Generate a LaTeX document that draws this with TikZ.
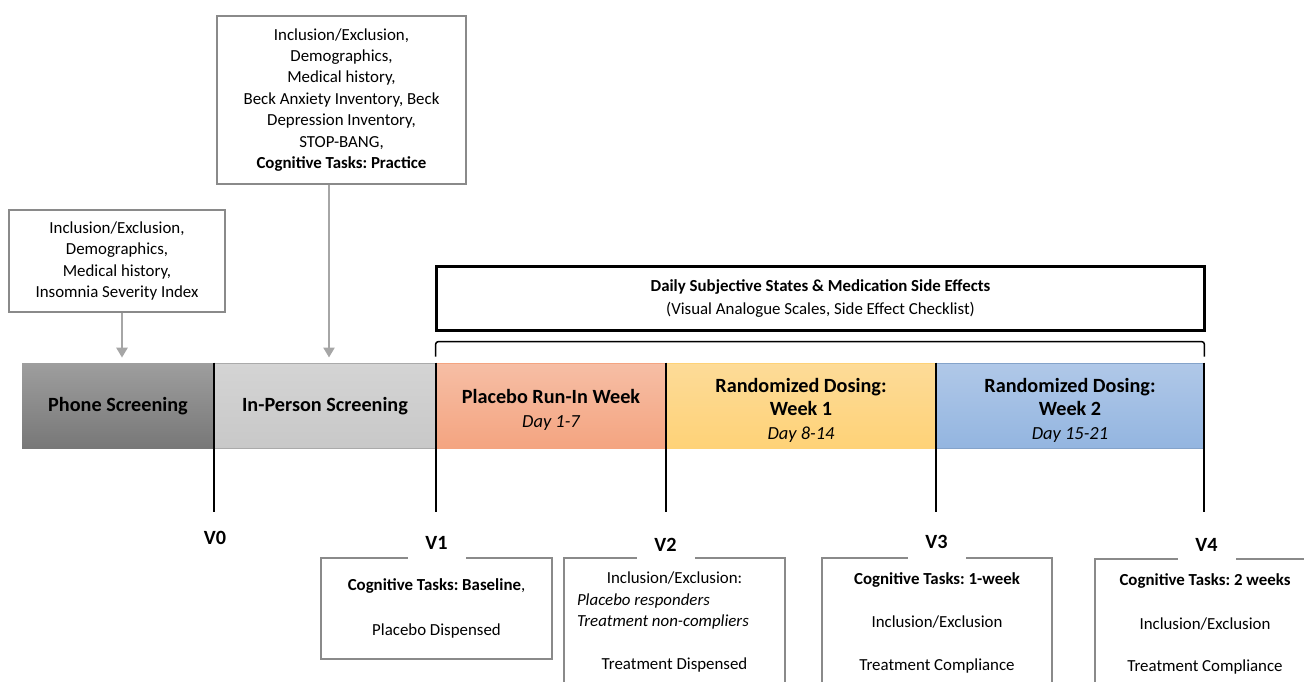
\documentclass[tikz,border=0pt]{standalone}
\usepackage{fontspec}
\setmainfont{Carlito}
\usetikzlibrary{arrows.meta}
\frenchspacing

\definecolor{boxgray}{HTML}{8A8A8A}
\definecolor{feedgray}{HTML}{A6A6A6}
\definecolor{phonetop}{HTML}{9E9E9E}
\definecolor{phonebot}{HTML}{777777}
\definecolor{persontop}{HTML}{D4D4D4}
\definecolor{personbot}{HTML}{C8C8C8}
\definecolor{placebotop}{HTML}{F6BEA5}
\definecolor{placebobot}{HTML}{F4A480}
\definecolor{weekonetop}{HTML}{FDDB98}
\definecolor{weekonebot}{HTML}{FED277}
\definecolor{weektwotop}{HTML}{B0C8E8}
\definecolor{weektwobot}{HTML}{93B5E0}

\newcommand{\dayspan}[1]{{\fontsize{10.5}{12}\selectfont\mdseries\itshape #1}}

\tikzset{
    infobox/.style={draw=boxgray, line width=0.03cm, fill=white, align=center, inner sep=0pt, font=\fontsize{9.6}{12.2}\selectfont},
    seg/.style={minimum height=1.72cm, inner sep=0pt, align=center, font=\fontsize{11.5}{13.5}\selectfont\bfseries},
    visit/.style={fill=white, minimum width=1.16cm, minimum height=0.74cm, inner sep=0pt, font=\fontsize{11.5}{13.5}\selectfont\bfseries},
    feed/.style={draw=feedgray, line width=0.05cm, shorten >=0.1cm, -{Triangle[length=0.2cm,width=0.22cm]}},
    divider/.style={line width=0.04cm}
}

\begin{document}
\begin{tikzpicture}[x=0.02cm, y=-0.02cm]
            \useasboundingbox (0,0) rectangle (1304,682);
            \clip (0,0) rectangle (1304,682);

            %screening info
            \node[infobox, minimum width=4.98cm, minimum height=3.36cm] (personinfo) at (341.5,100) {Inclusion/Exclusion,\\Demographics,\\Medical history,\\Beck Anxiety Inventory, Beck\\Depression Inventory,\\STOP-BANG,\\\textbf{Cognitive Tasks: Practice}};

            \node[infobox, minimum width=4.32cm, minimum height=2.04cm] (phoneinfo) at (117,261) {Inclusion/Exclusion,\\Demographics,\\Medical history,\\Insomnia Severity Index};

            %daily measures
            \node[draw, line width=0.06cm, minimum width=15.38cm, minimum height=1.3cm, align=center, font=\fontsize{9.6}{12}\selectfont] (daily) at (820.5,298.5) {\textbf{Daily Subjective States \& Medication Side Effects}\\[1pt](Visual Analogue Scales, Side Effect Checklist)};

            %timeline
            \node[seg, minimum width=3.84cm, top color=phonetop, bottom color=phonebot] (phone) at (118,406) {\raisebox{-2pt}{Phone Screening}};

            \node[seg, minimum width=4.44cm, top color=persontop, bottom color=personbot, draw=persontop!80!black, line width=0.02cm] (person) at (325,406) {\raisebox{-2pt}{In-Person Screening}};

            \node[seg, minimum width=4.6cm, top color=placebotop, bottom color=placebobot, draw=placebobot, line width=0.02cm] (placebo) at (551,406) {\rule{0pt}{12.5pt}Placebo Run-In Week\\\dayspan{Day 1-7}};

            \node[seg, minimum width=5.4cm, top color=weekonetop, bottom color=weekonebot, draw=weekonebot, line width=0.02cm] (weekone) at (801,406) {\rule{0pt}{13pt}Randomized Dosing:\\Week 1\\\dayspan{Day 8-14}};

            \node[seg, minimum width=5.36cm, top color=weektwotop, bottom color=weektwobot, draw=weektwobot!90!black, line width=0.02cm] (weektwo) at (1070,406) {\rule{0pt}{13pt}Randomized Dosing:\\Week 2\\\dayspan{Day 15-21}};

            \draw[feed] ([xshift=0.1cm]phoneinfo.south) -- ([xshift=0.1cm]phoneinfo.south |- phone.north);

            \draw[feed] ([xshift=-0.25cm]personinfo.south) -- ([xshift=-0.25cm]personinfo.south |- person.north);

            \draw[line width=0.03cm, rounded corners=0.06cm] ([yshift=0.12cm]placebo.north west) -- ([yshift=0.42cm]placebo.north west) -- ([yshift=0.42cm]weektwo.north east) -- ([yshift=0.12cm]weektwo.north east);

            %visit boxes
            \node[infobox, minimum width=4.62cm, minimum height=2.02cm] (vonebox) at (436.5,608.5) {\textbf{Cognitive Tasks: Baseline},\\[13pt]Placebo Dispensed};

            \node[infobox, minimum width=4.42cm, minimum height=2.56cm] (vtwobox) at (674.5,622) {Inclusion/Exclusion:\\\makebox[3.9cm][l]{\itshape Placebo responders}\\\makebox[3.9cm][l]{\itshape Treatment non-compliers}\\[12pt]Treatment Dispensed};

            \node[infobox, minimum width=4.6cm, minimum height=2.6cm] (vthreebox) at (937,623) {\textbf{Cognitive Tasks: 1-week}\\[12.5pt]Inclusion/Exclusion\\[12.5pt]Treatment Compliance};

            \node[infobox, minimum width=4.4cm, minimum height=2.6cm] (vfourbox) at (1205,624) {\textbf{Cognitive Tasks: 2 weeks}\\[12.5pt]Inclusion/Exclusion\\[12pt]Treatment Compliance};

            %visits
            \node[visit] (vzero) at (215,538) {V0};

            \node[visit] (vone) at (436.5,543) {V1};

            \node[visit] (vtwo) at (665.5,545) {V2};

            \node[visit] (vthree) at (936.5,542) {V3};

            \node[visit] (vfour) at (1206.5,545) {V4};

            \coordinate (tickend) at (0,512);

            \draw[divider] (phone.north east) -- (phone.north east |- tickend);

            \draw[divider] (placebo.north west) -- (placebo.north west |- tickend);

            \draw[divider] (weekone.north west) -- (weekone.north west |- tickend);

            \draw[divider] (weektwo.north west) -- (weektwo.north west |- tickend);

            \draw[divider] (weektwo.north east) -- (weektwo.north east |- tickend);
        \end{tikzpicture}
\end{document}
